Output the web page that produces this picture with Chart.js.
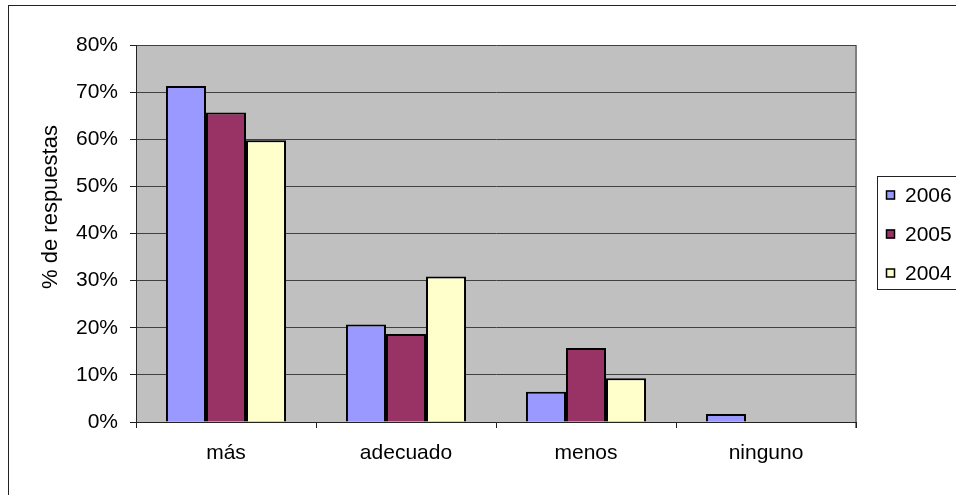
<!DOCTYPE html>
<html>
<head>
<meta charset="utf-8">
<script src="https://cdn.jsdelivr.net/npm/chart.js@4/dist/chart.umd.min.js"></script>
<style>
    html, body { margin: 0; padding: 0; background: #fff; }
    #wrap { width: 956px; height: 495px; }
</style>
</head>
<body>
<div id="wrap"><canvas id="chart" width="956" height="495"></canvas></div>
<script>
const categories = ["más", "adecuado", "menos", "ninguno"];
const seriesNames = ["2006", "2005", "2004"];
const values2006 = [71.3, 20.7, 6.4, 1.7];
const values2005 = [65.7, 18.7, 15.7, 0];
const values2004 = [59.8, 30.9, 9.3, 0];
const yTicks = [0, 10, 20, 30, 40, 50, 60, 70, 80];
const yTitle = "% de respuestas";

const SERIES_COLORS = ["#9999ff", "#993366", "#ffffcc"];
const FONT = "'Liberation Sans', Arial, sans-serif";

// grey plot area, frame round the whole chart, y title and legend box
const decorPlugin = {
    id: "decor",
    beforeDraw(chart) {
        const { ctx, chartArea: a } = chart;
        ctx.save();
        ctx.strokeStyle = "#222";
        ctx.lineWidth = 1;
        ctx.strokeRect(8.5, 5.5, 1100, 600);
        ctx.fillStyle = "#c0c0c0";
        ctx.fillRect(a.left, a.top, a.right - a.left, a.bottom - a.top);
        ctx.strokeStyle = "#808080";
        ctx.lineWidth = 2;
        ctx.beginPath();
        ctx.moveTo(a.right, a.top);
        ctx.lineTo(a.right, a.bottom + 6);
        ctx.stroke();
        ctx.restore();
    },
    afterDraw(chart) {
        const { ctx } = chart;
        ctx.save();
        ctx.fillStyle = "#000";
        ctx.font = "22px " + FONT;
        ctx.textAlign = "center";
        ctx.textBaseline = "middle";
        ctx.translate(51, 207);
        ctx.rotate(-Math.PI / 2);
        ctx.fillText(yTitle, 0, 0);
        ctx.restore();

        ctx.save();
        ctx.strokeStyle = "#222";
        ctx.lineWidth = 1;
        ctx.strokeRect(877.5, 176.5, 200, 113);
        ctx.font = "21px " + FONT;
        ctx.textBaseline = "middle";
        chart.data.datasets.forEach((ds, i) => {
            const cy = 195 + i * 39;
            ctx.fillStyle = ds.backgroundColor;
            ctx.fillRect(886, cy - 4.5, 9, 9);
            ctx.strokeStyle = "#000";
            ctx.lineWidth = 1.5;
            ctx.strokeRect(886.5, cy - 4, 8, 8);
            ctx.fillStyle = "#000";
            ctx.fillText(ds.label, 905, cy + 1);
        });
        ctx.restore();
    }
};

const seriesValues = [values2006, values2005, values2004];

new Chart(document.getElementById("chart"), {
    type: "bar",
    data: {
        labels: categories,
        datasets: seriesNames.map((name, i) => ({
            label: name,
            data: seriesValues[i],
            backgroundColor: SERIES_COLORS[i],
            borderColor: "#000",
            borderWidth: 2,
            categoryPercentage: 0.667,
            barPercentage: 1
        }))
    },
    options: {
        responsive: false,
        animation: false,
        devicePixelRatio: 1,
        layout: { padding: { left: 0, top: 45, right: 100, bottom: 0 } },
        plugins: {
            legend: { display: false },
            tooltip: { enabled: false }
        },
        scales: {
            x: {
                grid: { offset: true, drawOnChartArea: false, drawTicks: true, tickLength: 6, color: "#222" },
                border: { display: true, color: "#222", width: 1 },
                ticks: { color: "#000", font: { family: FONT, size: 21 }, padding: 13 },
                afterFit: s => { s.height = 73; }
            },
            y: {
                min: 0,
                max: 80,
                afterBuildTicks: s => { s.ticks = yTicks.map(v => ({ value: v })); },
                grid: { color: "#404040", lineWidth: 1, tickLength: 6, tickColor: "#222" },
                border: { display: true, color: "#222", width: 1 },
                ticks: {
                    color: "#000",
                    font: { family: FONT, size: 21 },
                    padding: 12,
                    callback: v => v + "%"
                },
                afterFit: s => { s.width = 136; }
            }
        }
    },
    plugins: [decorPlugin]
});
</script>
</body>
</html>
